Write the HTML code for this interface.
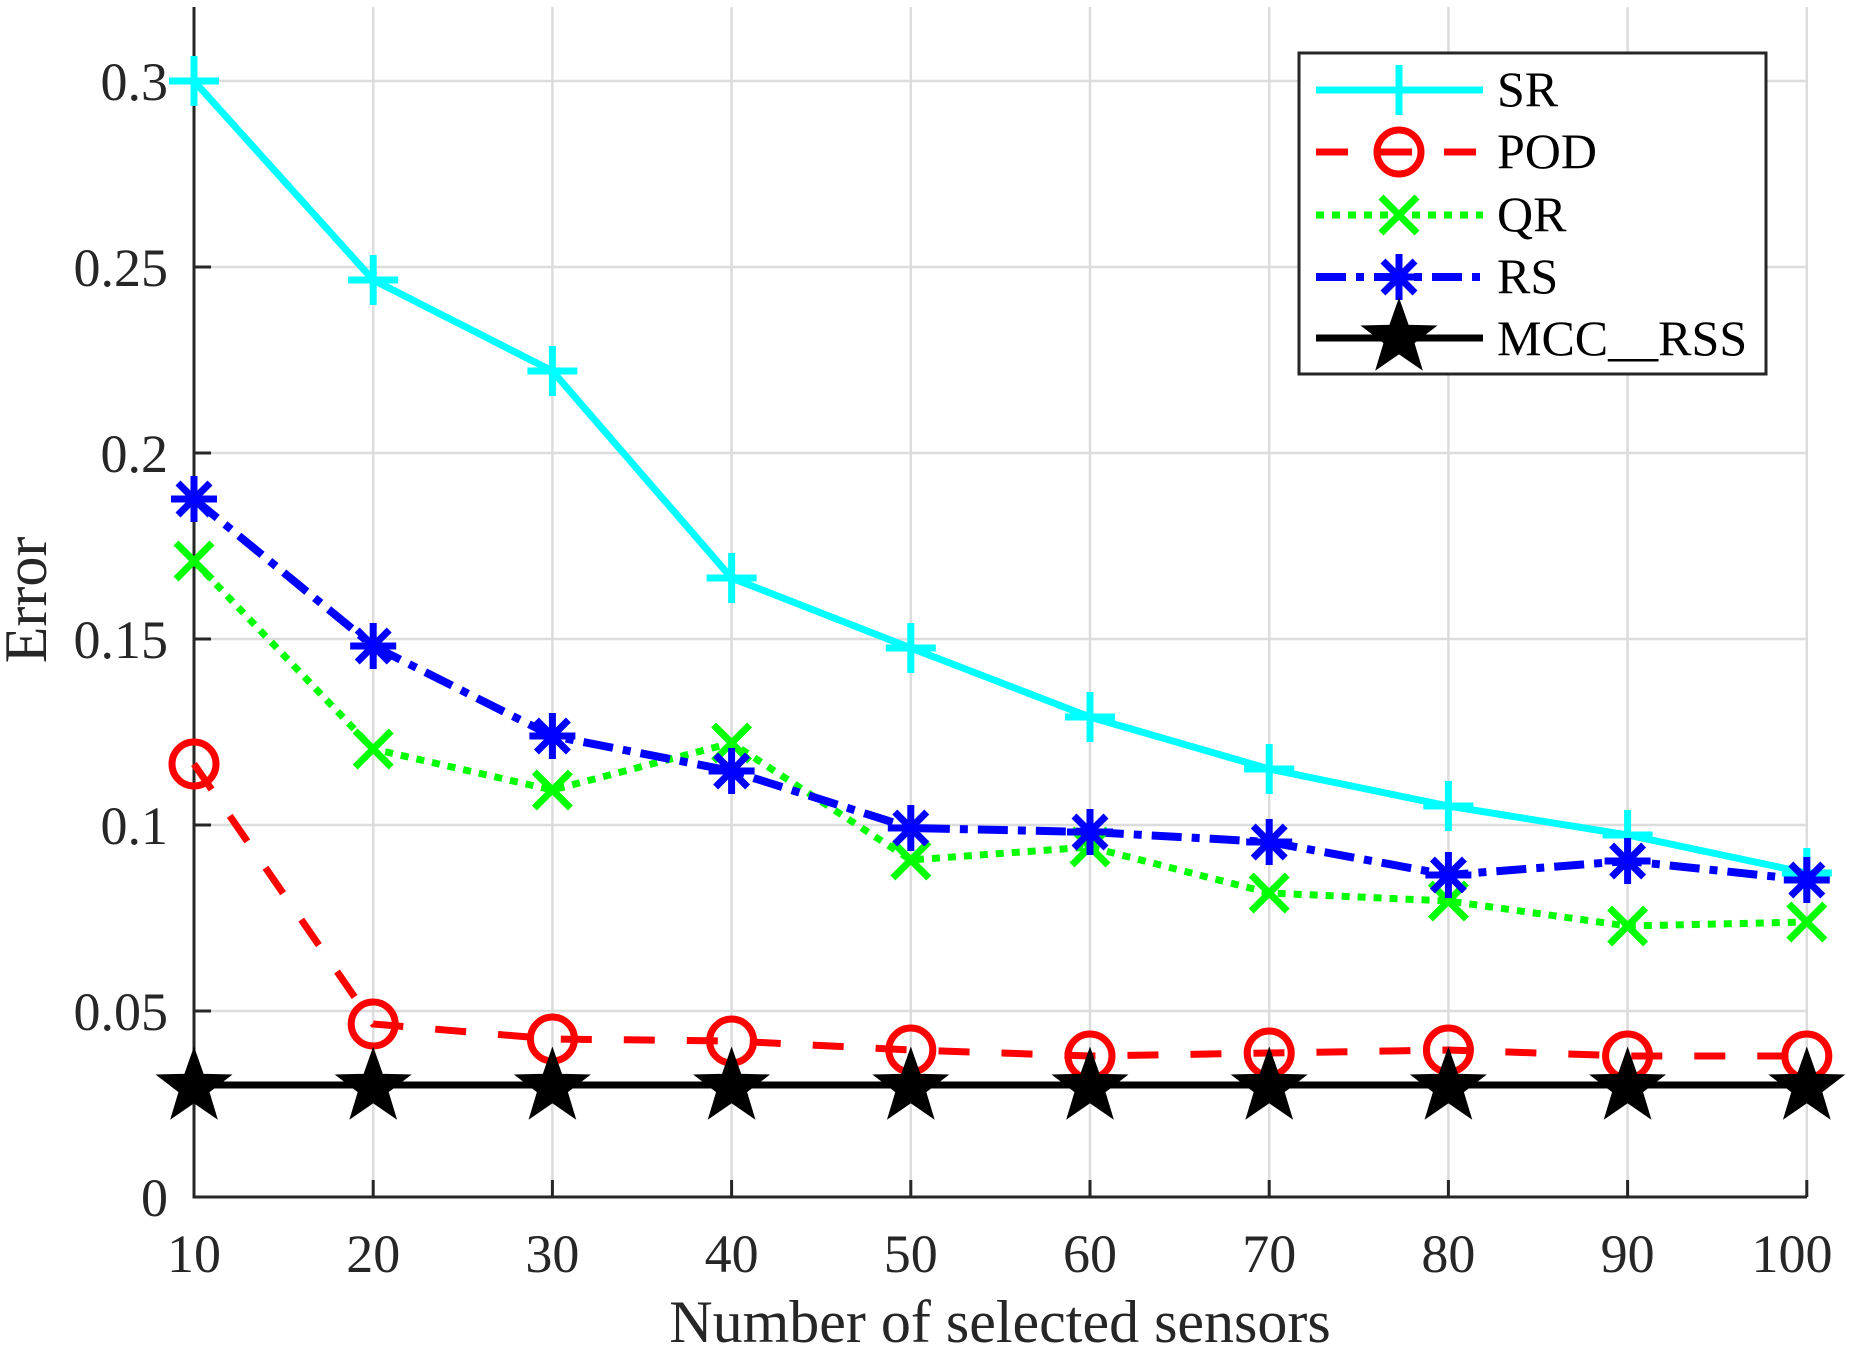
<!DOCTYPE html>
<html><head><meta charset="utf-8"><style>
html,body{margin:0;padding:0;background:#fff;}
svg{display:block;}
text{font-family:"Liberation Serif",serif;fill:#262626;}
</style></head><body>
<svg width="1854" height="1350" viewBox="0 0 1854 1350" xmlns="http://www.w3.org/2000/svg">
<defs>
<g id="plus"><path d="M-25 0H25M0 -25V25" stroke="#00ffff" stroke-width="7" fill="none"/></g>
<g id="circ"><circle r="22" stroke="#ff0000" stroke-width="7" fill="none"/></g>
<g id="xm"><path d="M-18 -18L18 18M-18 18L18 -18" stroke="#00ff00" stroke-width="7" fill="none"/></g>
<g id="ast"><path d="M-23 0H23M0 -23V23M-16 -16L16 16M-16 16L16 -16" stroke="#0000ff" stroke-width="7" fill="none"/></g>
<g id="star"><polygon points="0,-36 8.5,-11.7 34.2,-11.1 13.8,4.5 21.2,29.1 0,14.5 -21.2,29.1 -13.8,4.5 -34.2,-11.1 -8.5,-11.7" fill="#000" stroke="#000" stroke-width="3"/></g>
</defs>
<g stroke="#dcdcdc" stroke-width="2.5">
<path d="M373.2 7V1197M552.4 7V1197M731.6 7V1197M910.8 7V1197M1090 7V1197M1269.2 7V1197M1448.4 7V1197M1627.6 7V1197M1806.8 7V1197"/>
<path d="M194 81H1807M194 267H1807M194 453H1807M194 639H1807M194 825H1807M194 1011H1807"/>
</g>
<g stroke="#262626" stroke-width="3" fill="none">
<path d="M194 7V1197H1807"/>
<path d="M194 81h17M194 267h17M194 453h17M194 639h17M194 825h17M194 1011h17"/>
<path d="M373.2 1197v-17M552.4 1197v-17M731.6 1197v-17M910.8 1197v-17M1090 1197v-17M1269.2 1197v-17M1448.4 1197v-17M1627.6 1197v-17M1806.8 1197v-17"/>
</g>
<g font-size="54" text-anchor="end">
<text x="168" y="100">0.3</text>
<text x="168" y="286">0.25</text>
<text x="168" y="472">0.2</text>
<text x="168" y="658">0.15</text>
<text x="168" y="844">0.1</text>
<text x="168" y="1030">0.05</text>
<text x="168" y="1216">0</text>
</g>
<g font-size="54" text-anchor="middle">
<text x="194" y="1272">10</text>
<text x="373.2" y="1272">20</text>
<text x="552.4" y="1272">30</text>
<text x="731.6" y="1272">40</text>
<text x="910.8" y="1272">50</text>
<text x="1090" y="1272">60</text>
<text x="1269.2" y="1272">70</text>
<text x="1448.4" y="1272">80</text>
<text x="1627.6" y="1272">90</text>
<text x="1792" y="1272">100</text>
</g>
<text x="1000" y="1342" font-size="60" text-anchor="middle">Number of selected sensors</text>
<text transform="translate(46,600) rotate(-90)" font-size="60" text-anchor="middle">Error</text>
<polyline fill="none" stroke="#00ffff" stroke-width="7" points="194,81 373.2,280 552.4,371 731.6,578 910.8,648 1090,717 1269.2,769 1448.4,806 1627.6,835 1806.8,873"/>
<polyline fill="none" stroke="#ff0000" stroke-width="7" stroke-dasharray="31 32" points="194,764 373.2,1024 552.4,1039 731.6,1041 910.8,1050 1090,1056 1269.2,1053 1448.4,1050 1627.6,1056 1806.8,1056"/>
<polyline fill="none" stroke="#00ff00" stroke-width="7" stroke-dasharray="8 8" points="194,561 373.2,749 552.4,790 731.6,743 910.8,860 1090,847 1269.2,893 1448.4,901 1627.6,926 1806.8,922"/>
<polyline fill="none" stroke="#0000ff" stroke-width="8" stroke-dasharray="30 10 8 10" points="194,499 373.2,646 552.4,736 731.6,771 910.8,828 1090,832 1269.2,842 1448.4,875 1627.6,861 1806.8,880"/>
<polyline fill="none" stroke="#000" stroke-width="7" points="194,1085 1806.8,1085"/>
<g>
<use href="#plus" x="194" y="81"/><use href="#plus" x="373.2" y="280"/><use href="#plus" x="552.4" y="371"/><use href="#plus" x="731.6" y="578"/><use href="#plus" x="910.8" y="648"/><use href="#plus" x="1090" y="717"/><use href="#plus" x="1269.2" y="769"/><use href="#plus" x="1448.4" y="806"/><use href="#plus" x="1627.6" y="835"/><use href="#plus" x="1806.8" y="873"/>
<use href="#circ" x="194" y="764"/><use href="#circ" x="373.2" y="1024"/><use href="#circ" x="552.4" y="1039"/><use href="#circ" x="731.6" y="1041"/><use href="#circ" x="910.8" y="1050"/><use href="#circ" x="1090" y="1056"/><use href="#circ" x="1269.2" y="1053"/><use href="#circ" x="1448.4" y="1050"/><use href="#circ" x="1627.6" y="1056"/><use href="#circ" x="1806.8" y="1056"/>
<use href="#xm" x="194" y="561"/><use href="#xm" x="373.2" y="749"/><use href="#xm" x="552.4" y="790"/><use href="#xm" x="731.6" y="743"/><use href="#xm" x="910.8" y="860"/><use href="#xm" x="1090" y="847"/><use href="#xm" x="1269.2" y="893"/><use href="#xm" x="1448.4" y="901"/><use href="#xm" x="1627.6" y="926"/><use href="#xm" x="1806.8" y="922"/>
<use href="#ast" x="194" y="499"/><use href="#ast" x="373.2" y="646"/><use href="#ast" x="552.4" y="736"/><use href="#ast" x="731.6" y="771"/><use href="#ast" x="910.8" y="828"/><use href="#ast" x="1090" y="832"/><use href="#ast" x="1269.2" y="842"/><use href="#ast" x="1448.4" y="875"/><use href="#ast" x="1627.6" y="861"/><use href="#ast" x="1806.8" y="880"/>
<use href="#star" x="194" y="1087"/><use href="#star" x="373.2" y="1087"/><use href="#star" x="552.4" y="1087"/><use href="#star" x="731.6" y="1087"/><use href="#star" x="910.8" y="1087"/><use href="#star" x="1090" y="1087"/><use href="#star" x="1269.2" y="1087"/><use href="#star" x="1448.4" y="1087"/><use href="#star" x="1627.6" y="1087"/><use href="#star" x="1806.8" y="1087"/>
</g>
<rect x="1299" y="53" width="467" height="321" fill="#fff" stroke="#262626" stroke-width="3"/>
<line x1="1316" y1="90" x2="1483" y2="90" stroke="#00ffff" stroke-width="7"/>
<use href="#plus" x="1399" y="90"/>
<line x1="1316" y1="152" x2="1483" y2="152" stroke="#ff0000" stroke-width="7" stroke-dasharray="32 32"/>
<use href="#circ" x="1399" y="152"/>
<line x1="1316" y1="215" x2="1483" y2="215" stroke="#00ff00" stroke-width="7" stroke-dasharray="8 8"/>
<use href="#xm" x="1399" y="215"/>
<line x1="1316" y1="277" x2="1483" y2="277" stroke="#0000ff" stroke-width="8" stroke-dasharray="30 10 8 10"/>
<use href="#ast" x="1399" y="277"/>
<line x1="1316" y1="338" x2="1483" y2="338" stroke="#000" stroke-width="7"/>
<use href="#star" x="1399" y="338"/>
<g font-size="50">
<text x="1497" y="106" style="fill:#000">SR</text>
<text x="1497" y="168" style="fill:#000">POD</text>
<text x="1497" y="231" style="fill:#000">QR</text>
<text x="1497" y="293" style="fill:#000">RS</text>
<text x="1497" y="355" style="fill:#000">MCC__RSS</text>
</g>
</svg>
</body></html>
